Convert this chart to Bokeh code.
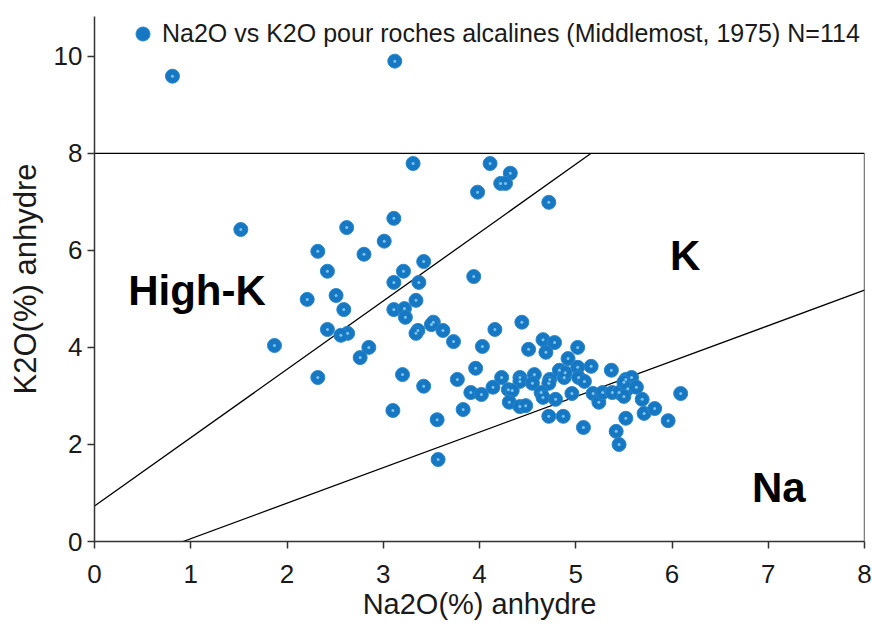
from bokeh.plotting import figure
from bokeh.models import Legend, LegendItem, Range1d
from bokeh.embed import file_html
from bokeh.resources import INLINE
from bokeh.core.properties import value

# ---- data ----
na2o = [0.81, 3.12, 3.31, 4.11, 4.32, 4.22, 4.27, 3.98, 4.72, 1.52,
        2.62, 3.11, 3.01, 2.32, 2.80, 2.42, 3.42, 3.21, 3.11, 3.37,
        3.94, 2.21, 2.51, 3.34, 2.59, 3.11, 3.22, 3.23, 3.52, 3.50,
        2.42, 2.63, 2.56, 3.36, 3.34, 3.62, 4.16, 4.44, 3.73, 1.87,
        2.85, 4.03, 2.76, 4.66, 4.78, 5.02, 4.51, 4.69, 4.92, 2.32,
        3.20, 3.42, 3.10, 3.56, 3.57, 3.83, 3.77, 3.96, 3.91, 4.02,
        4.14, 4.23, 4.42, 4.42, 4.57, 4.55, 4.73, 4.72, 4.30, 4.34,
        4.31, 4.42, 4.48, 4.64, 4.66, 4.79, 4.96, 4.72, 4.87, 5.08,
        4.83, 5.02, 5.16, 5.37, 4.88, 4.89, 5.03, 5.09, 5.18, 5.24,
        5.28, 5.38, 5.45, 5.52, 5.58, 5.50, 5.54, 5.63, 5.50, 5.69,
        5.71, 5.82, 5.52, 5.42, 5.45, 5.96, 6.09]
k2o = [9.59, 9.90, 7.79, 7.79, 7.59, 7.38, 7.38, 7.20, 6.99, 6.43,
       6.47, 6.66, 6.19, 5.98, 5.92, 5.57, 5.77, 5.57, 5.34, 5.34,
       5.46, 4.99, 5.07, 4.97, 4.78, 4.78, 4.80, 4.62, 4.52, 4.47,
       4.37, 4.29, 4.25, 4.35, 4.29, 4.35, 4.37, 4.52, 4.12, 4.04,
       4.00, 4.02, 3.79, 4.16, 4.10, 4.00, 3.96, 3.90, 3.77, 3.38,
       3.44, 3.20, 2.70, 2.51, 1.69, 2.72, 3.34, 3.57, 3.07, 3.03,
       3.18, 3.38, 3.38, 3.30, 3.44, 3.26, 3.34, 3.26, 3.13, 3.11,
       2.87, 2.78, 2.80, 3.07, 2.97, 2.93, 3.05, 2.58, 2.58, 2.35,
       3.53, 3.59, 3.61, 3.53, 3.38, 3.48, 3.38, 3.30, 3.05, 2.87,
       3.07, 3.07, 3.07, 3.34, 3.38, 3.28, 3.15, 3.18, 2.99, 2.93,
       2.64, 2.74, 2.54, 2.27, 2.00, 2.49, 3.05]

x_ticks = [0, 1, 2, 3, 4, 5, 6, 7, 8]
y_ticks = [0, 2, 4, 6, 8, 10]

# boundary lines of the diagram
highk_line_x = [0.0, 5.16]
highk_line_y = [0.73, 8.0]
na_line_x = [0.92, 8.0]
na_line_y = [0.0, 5.18]
box_x = [0.0, 8.0, 8.0]
box_y = [8.0, 8.0, 0.0]

region_names = ["High-K", "K", "Na"]
region_x = [0.35, 5.98, 6.83]
region_y = [5.18, 5.90, 1.11]

legend_label = "Na2O vs K2O pour roches alcalines (Middlemost, 1975) N=114"

FONT = "Liberation Sans"

p = figure(width=872, height=627, output_backend="svg", toolbar_location=None,
           x_range=Range1d(0, 8), y_range=Range1d(0, 10.82),
           min_border_left=94, min_border_right=8, min_border_top=16,
           min_border_bottom=86)
p.outline_line_color = None
p.xgrid.visible = False
p.ygrid.visible = False
p.background_fill_color = "white"
p.border_fill_color = "white"

p.line(box_x, box_y, line_color="black", line_width=1.3)
p.line(highk_line_x, highk_line_y, line_color="black", line_width=1.3)
p.line(na_line_x, na_line_y, line_color="black", line_width=1.3)

r1 = p.scatter(na2o, k2o, size=14, fill_color="#1677c2", line_color="#2a86cc", line_width=1)
r2 = p.scatter(na2o, k2o, size=3, fill_color="#7cc4f2", line_color=None)

p.text(x=region_x, y=region_y, text=region_names, text_font=value(FONT),
       text_font_style="bold", text_font_size="42px", text_color="black",
       text_baseline="alphabetic", text_align="left")

for ax in (p.xaxis[0], p.yaxis[0]):
    ax.axis_line_color = "#333333"
    ax.axis_line_width = 1.5
    ax.major_tick_line_color = "#333333"
    ax.major_tick_line_width = 1.5
    ax.major_tick_in = 0
    ax.major_tick_out = 7
    ax.minor_tick_line_color = None
    ax.major_label_text_font = FONT
    ax.major_label_text_font_size = "26px"
    ax.major_label_text_color = "#1a1a1a"
    ax.axis_label_text_font = FONT
    ax.axis_label_text_font_style = "normal"
    ax.axis_label_text_color = "#1a1a1a"

p.xaxis.ticker = x_ticks
p.yaxis.ticker = y_ticks
p.xaxis.axis_label = "Na2O(%) anhydre"
p.yaxis.axis_label = "K2O(%) anhydre"
p.xaxis.axis_label_text_font_size = "29px"
p.yaxis.axis_label_text_font_size = "31px"
p.xaxis.major_label_standoff = 16
p.yaxis.major_label_standoff = 5
p.xaxis.axis_label_standoff = 2
p.yaxis.axis_label_standoff = 8

legend = Legend(items=[LegendItem(label=legend_label, renderers=[r1])],
                location=(31, 490), label_text_font=FONT, label_text_font_size="25px",
                label_text_color="#1a1a1a", background_fill_alpha=0,
                border_line_color=None, padding=0, margin=0, spacing=0,
                glyph_width=35, glyph_height=35, label_height=35, label_standoff=2)
p.add_layout(legend)

open("out.html", "w").write(file_html(p, INLINE))
